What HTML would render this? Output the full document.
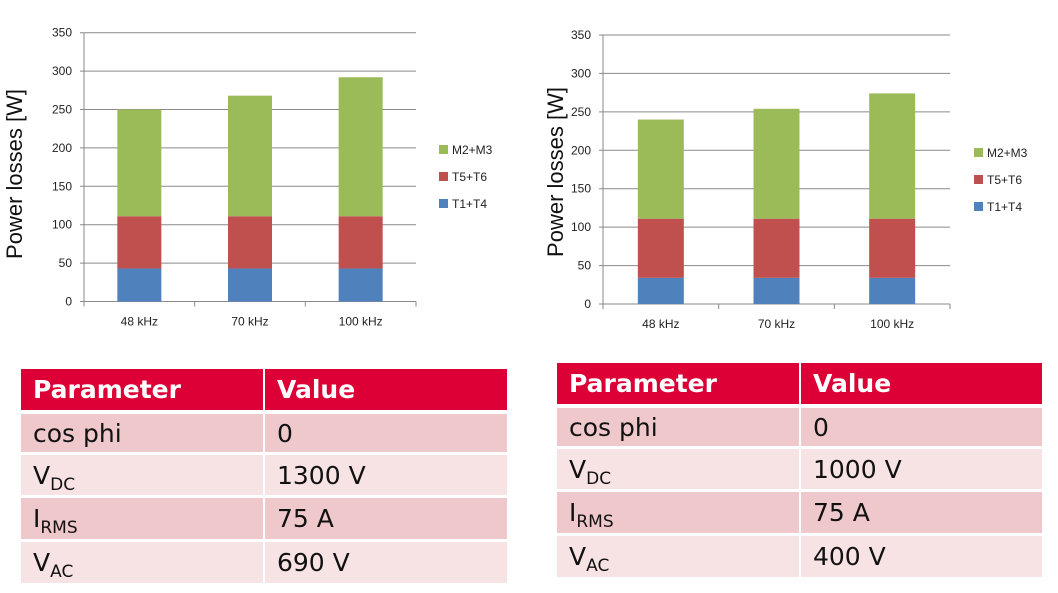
<!DOCTYPE html>
<html><head><meta charset="utf-8"><style>
body{margin:0;width:1058px;height:593px;background:#fff;overflow:hidden;position:relative;font-family:"DejaVu Sans","Liberation Sans",sans-serif}
svg{position:absolute;left:0;top:0}
table{position:absolute;border-collapse:separate;border-spacing:0;}
td{padding:0 0 0 12px;font-size:25px;color:#111;border-right:2px solid #fff;border-bottom:3px solid #fff;vertical-align:middle}
th{background:#dc0036;color:#fff;font-weight:bold;font-size:25px;text-align:left;padding:0 0 0 12px;border-right:2px solid #fff;border-bottom:4px solid #fff}
tr.a td{background:#efc8cb}tr.b td{background:#f7e3e4}
sub{font-size:17px;vertical-align:-6px;line-height:0}
</style></head><body>
<svg id="chart" width="1058" height="593" font-family="Liberation Sans, sans-serif"></svg>
<table style="left:21px;top:369px;width:488px">
<tr style="height:45px"><th style="width:230px">Parameter</th><th>Value</th></tr>
<tr class="a" style="height:41px"><td>cos phi</td><td>0</td></tr>
<tr class="b" style="height:43px"><td>V<sub>DC</sub></td><td>1300 V</td></tr>
<tr class="a" style="height:44px"><td>I<sub>RMS</sub></td><td>75 A</td></tr>
<tr class="b" style="height:44px"><td>V<sub>AC</sub></td><td>690 V</td></tr>
</table>
<table style="left:557px;top:363px;width:487px">
<tr style="height:45px"><th style="width:230px">Parameter</th><th>Value</th></tr>
<tr class="a" style="height:41px"><td>cos phi</td><td>0</td></tr>
<tr class="b" style="height:43px"><td>V<sub>DC</sub></td><td>1000 V</td></tr>
<tr class="a" style="height:44px"><td>I<sub>RMS</sub></td><td>75 A</td></tr>
<tr class="b" style="height:44px"><td>V<sub>AC</sub></td><td>400 V</td></tr>
</table>
<script>
const categories=["48 kHz","70 kHz","100 kHz"];
const seriesNames=["T1+T4","T5+T6","M2+M3"];
const yTicks=[0,50,100,150,200,250,300,350];
const leftT1T4=[43,43,43];
const leftT5T6=[68,68,68];
const leftM2M3=[139,157,181];
const rightT1T4=[34,34,34];
const rightT5T6=[77,77,77];
const rightM2M3=[129,143,163];
const colors=["#4f81bd","#c0504d","#9bbb59"];
const svg=document.getElementById('chart');
const NS="http://www.w3.org/2000/svg";
function mk(t,a,p){const e=document.createElementNS(NS,t);for(const k in a)e.setAttribute(k,a[k]);p.appendChild(e);return e;}
function chart(name,g,series){
  const grp=mk('g',{},svg);
  
  
  const y=v=>g.y0-(v/350)*(g.y0-g.y1);
  const bw=(g.x1-g.x0)/categories.length;
  const x=i=>g.x0+bw*i+bw/2;
  yTicks.forEach(t=>{
    const l=mk('line',{x1:g.x0-4,x2:g.x1,y1:y(t),y2:y(t),stroke:'#8a8a8a','stroke-width':1},grp);
    
    
    const tx=mk('text',{x:g.x0-12,y:y(t)+4,'text-anchor':'end','font-size':12,fill:'#222'},grp);
    
    
    tx.textContent=t;
  });
  mk('line',{x1:g.x0,x2:g.x0,y1:g.y1,y2:g.y0+5,stroke:'#888'},grp);
  for(let i=0;i<=categories.length;i++)mk('line',{x1:g.x0+bw*i,x2:g.x0+bw*i,y1:g.y0,y2:g.y0+5,stroke:'#888'},grp);
  categories.forEach((c,i)=>{
    let base=0;
    series.forEach((s,k)=>{
      const r=mk('rect',{x:x(i)-g.bar/2,width:g.bar,y:y(base+s[i]),height:y(base)-y(base+s[i]),fill:colors[k]},grp);
      
      
      base+=s[i];
    });
    const tx=mk('text',{x:x(i),y:g.y0+24,'text-anchor':'middle','font-size':12,fill:'#222'},grp);
    
    
    tx.textContent=c;
  });
  [2,1,0].forEach((k,j)=>{
    const r=mk('rect',{x:g.lx,y:g.ly+j*27-5,width:9,height:9,fill:colors[k]},grp);
    
    
    const tx=mk('text',{x:g.lx+13,y:g.ly+j*27+4,'font-size':12,fill:'#222'},grp);
    
    
    tx.textContent=seriesNames[k];
  });
  const yt=mk('text',{x:g.tx,y:g.ty,'text-anchor':'middle','font-size':22,fill:'#111',transform:`rotate(-90 ${g.tx} ${g.ty})`},grp);
  
  
  yt.textContent='Power losses [W]';
}
chart('chart-left',{x0:84,x1:416,y0:301.5,y1:32.7,bar:44,lx:439,ly:150,tx:22,ty:174},[leftT1T4,leftT5T6,leftM2M3]);
chart('chart-right',{x0:603,x1:950,y0:304,y1:35,bar:46,lx:974,ly:153,tx:563,ty:172},[rightT1T4,rightT5T6,rightM2M3]);
</script>
</body></html>
